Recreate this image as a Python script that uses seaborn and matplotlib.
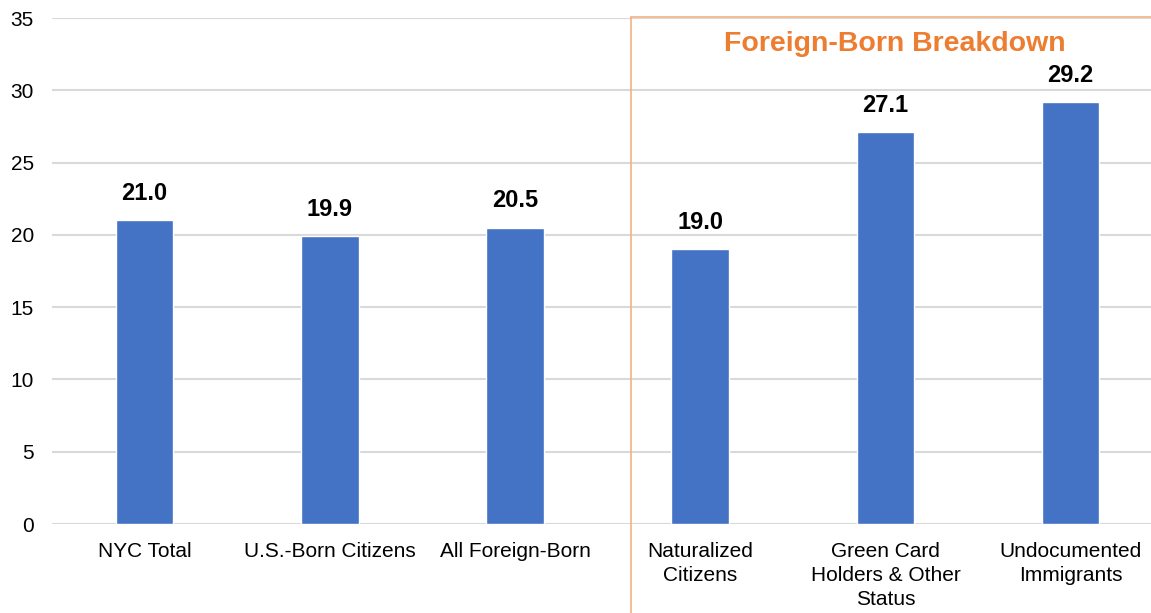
import matplotlib
matplotlib.use('Agg')
import matplotlib.pyplot as plt
import seaborn as sns
import pandas as pd

# Datos del grafico
categorias = ['NYC Total', 'U.S.-Born Citizens', 'All Foreign-Born',
              'Naturalized\nCitizens', 'Green Card\nHolders & Other\nStatus',
              'Undocumented\nImmigrants']
valores = [21.0, 19.9, 20.5, 19.0, 27.1, 29.2]
yticks = [0, 5, 10, 15, 20, 25, 30, 35]
titulo_grupo = 'Foreign-Born Breakdown'

df = pd.DataFrame({'grupo': categorias, 'valor': valores})

sns.set_style('white')
plt.rcParams['font.family'] = ['Liberation Sans', 'DejaVu Sans']

W, H = 1151, 613
fig = plt.figure(figsize=(W / 100, H / 100), dpi=100)
ax = fig.add_axes([52 / W, (H - 524) / H, (W - 52) / W, (524 - 18) / H])

sns.barplot(data=df, x='grupo', y='valor', color='#4472C4', width=0.31,
            saturation=1, ax=ax, zorder=3)

ax.set_ylim(0, 35)
ax.set_xlim(-0.5, -0.5 + (W - 52) / 185.2)
ax.set_yticks(yticks)
ax.yaxis.grid(True, color='#d9d9d9', lw=1.5, zorder=0)
ax.set_axisbelow(True)
for s in ax.spines.values():
    s.set_visible(False)
ax.tick_params(axis='both', length=0, labelsize=15, colors='black')
ax.tick_params(axis='x', pad=13)
ax.tick_params(axis='y', pad=13)
for lab in ax.get_xticklabels():
    lab.set_linespacing(1.32)
ax.set_xlabel('')
ax.set_ylabel('')

# etiquetas de valor
for i, v in enumerate(valores):
    ax.annotate(f'{v:.1f}', (i, v), xytext=(0, 11), textcoords='offset points',
                ha='center', va='bottom', fontsize=17, fontweight='bold',
                color='black')

# recuadro naranja
x_caja = 2.625
ax.plot([x_caja, x_caja], [35.1, -6.15], color='#F4B183', lw=1.2, clip_on=False, zorder=4)
ax.plot([x_caja, ax.get_xlim()[1]], [35.1, 35.1], color='#F4B183', lw=1.2, clip_on=False, zorder=4)
ax.text(4.05, 33.2, titulo_grupo, ha='center', va='center', fontsize=20.5,
        fontweight='bold', color='#ED7D31')

fig.savefig('out.png', dpi=100)
